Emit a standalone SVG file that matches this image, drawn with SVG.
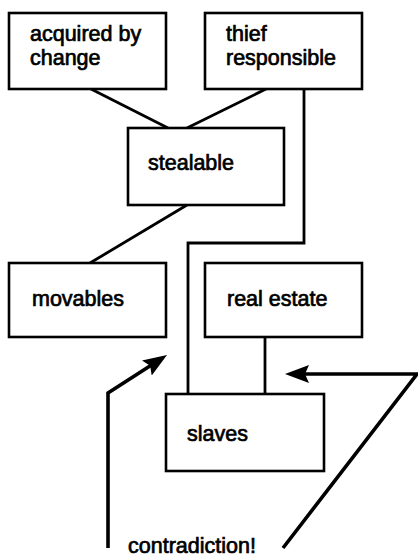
<svg xmlns="http://www.w3.org/2000/svg" width="418" height="559" viewBox="0 0 418 559">
<style>
.box{fill:#fff;stroke:#000;stroke-width:2.6}
.lbl{font-family:"Liberation Sans",Arial,Helvetica,sans-serif;font-size:21.5px;fill:#000;stroke:#000;stroke-width:0.7}
.con{fill:none;stroke:#000;stroke-width:2.8;stroke-linejoin:miter}
.arr{fill:none;stroke:#000;stroke-width:3.6;stroke-linejoin:miter}
</style>
<defs>
<marker id="ah" viewBox="0 0 24 18" refX="18" refY="9" markerWidth="24" markerHeight="18" markerUnits="userSpaceOnUse" orient="auto">
<path d="M0,0 L24,9 L0,18 L4,9 z" fill="#000"/>
</marker>
</defs>
<rect width="418" height="559" fill="#fff"/>
<g id="connectors">
<line class="con" x1="91" y1="89" x2="168" y2="128"/>
<line class="con" x1="266" y1="89" x2="187" y2="128"/>
<line class="con" x1="187" y1="205" x2="90" y2="263"/>
<polyline class="con" points="304,89 304,243 188,243 188,394"/>
<line class="con" x1="265" y1="337" x2="265" y2="394"/>
<polyline class="arr" points="108,548 108,393 161.96,358.25" marker-end="url(#ah)"/>
<polyline class="arr" points="283,548 417,374 291,374" marker-end="url(#ah)"/>
</g>
<g id="acquired">
<rect class="box" x="9" y="13" width="157" height="76"/>
<text class="lbl" x="30" y="41">acquired by</text>
<text class="lbl" x="30" y="65">change</text>
</g>
<g id="thief">
<rect class="box" x="205" y="13" width="157" height="76"/>
<text class="lbl" x="226" y="41">thief</text>
<text class="lbl" x="226" y="65">responsible</text>
</g>
<g id="stealable">
<rect class="box" x="128" y="128" width="156" height="77"/>
<text class="lbl" x="148" y="170">stealable</text>
</g>
<g id="movables">
<rect class="box" x="9" y="263" width="157" height="74"/>
<text class="lbl" x="32" y="306">movables</text>
</g>
<g id="realestate">
<rect class="box" x="205" y="263" width="157" height="74"/>
<text class="lbl" x="227" y="306">real estate</text>
</g>
<g id="slaves">
<rect class="box" x="166" y="394" width="158" height="77"/>
<text class="lbl" x="187" y="441">slaves</text>
</g>
<g id="contradiction">
<text class="lbl" x="128" y="553">contradiction!</text>
</g>
</svg>
